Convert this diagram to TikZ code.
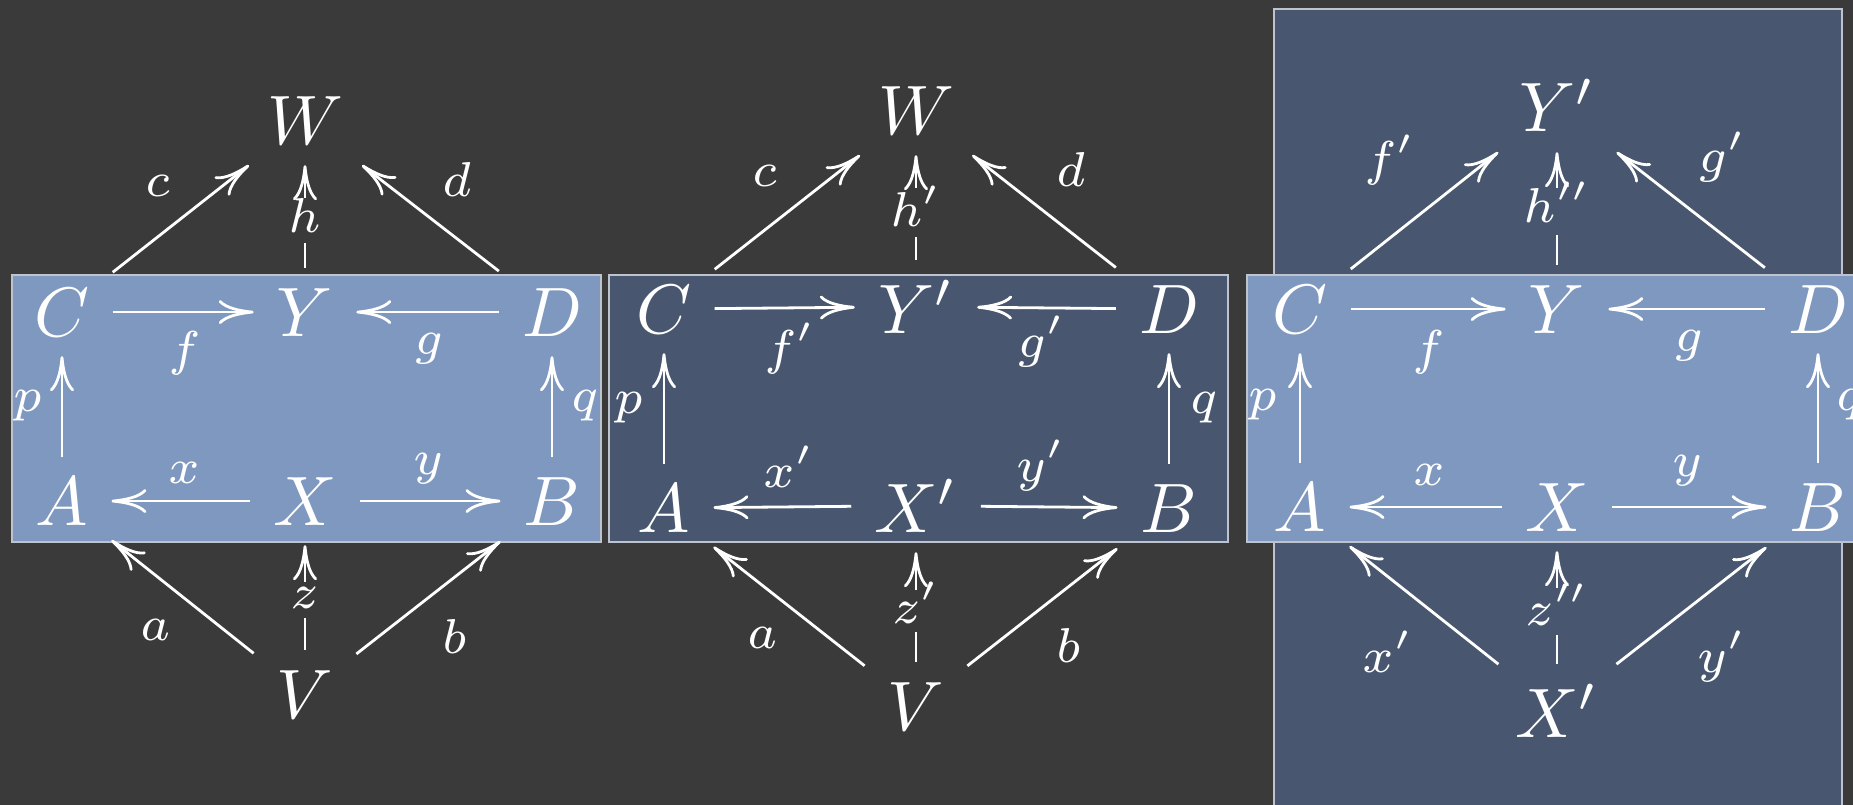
\documentclass[tikz,border=0pt]{standalone}
\usepackage{graphicx}
\usetikzlibrary{arrows.meta}
\definecolor{bgcol}{RGB}{58,58,58}
\definecolor{lightblue}{RGB}{127,152,191}
\definecolor{darkblue}{RGB}{72,87,111}
\definecolor{edgecol}{RGB}{190,195,205}
\newcommand\ob[1]{\scalebox{7}{$#1$}}
\newcommand\lb[1]{\scalebox{7}{$\scriptstyle #1$}}
\tikzset{
  obj/.style={text=white, inner xsep=23pt, inner ysep=20pt, anchor=base},
  lab/.style={text=white, inner sep=0pt, anchor=base},
  desc/.style={text=white, inner sep=0pt},
  arr/.style={draw=white, line width=2.8pt, -{Computer Modern Rightarrow[length=35pt,width=24pt]}},
  seg/.style={draw=white, line width=2.8pt},
  lightbox/.style={fill=lightblue, draw=edgecol, line width=1.5pt},
  darkbox/.style={fill=darkblue, draw=edgecol, line width=1.5pt},
}
\begin{document}
\begin{tikzpicture}[x=1pt,y=-1pt]
\useasboundingbox (0,0) rectangle (1853,805);
\fill[bgcol] (0,0) rectangle (1853,805);
\clip (0,0) rectangle (1853,805);
% boxes
\path[lightbox] (12,275) rectangle (601,542);
\path[darkbox] (609,275) rectangle (1228,542);
\path[darkbox] (1274,9) rectangle (1842,830);
\path[lightbox] (1247,275) rectangle (1875,542);

% ---------- panel 1 ----------
\node[obj] (W1) at (305,145) {\ob{W}};
\node[obj] (C1) at (62,336) {\ob{C}};
\node[obj] (Y1) at (305,336) {\ob{Y}};
\node[obj] (D1) at (552,336) {\ob{D}};
\node[obj] (A1) at (62,525) {\ob{A}};
\node[obj] (X1) at (305,525) {\ob{X}};
\node[obj] (B1) at (552,525) {\ob{B}};
\node[obj] (V1) at (305,718) {\ob{V}};
\node[lab] (c1) at (158,197) {\lb{c}};
\node[lab] (d1) at (457,197) {\lb{d}};
\node[lab] (f1) at (185,365) {\lb{f}};
\node[lab] (g1) at (429,354) {\lb{g}};
\node[lab] (p1) at (28,411) {\lb{p}};
\node[lab] (q1) at (585,411) {\lb{q}};
\node[lab] (x1) at (184,483) {\lb{x}};
\node[lab] (y1) at (429,474) {\lb{y}};
\node[lab] (a1) at (156,640) {\lb{a}};
\node[lab] (b1) at (455,653) {\lb{b}};
\node[desc, text height=35pt, text depth=10pt] (h1) at (305,220.5) {\lb{h}};
\node[desc, text height=26pt, text depth=10pt] (z1) at (305,600) {\lb{z}};
\draw[arr] (C1) -- (Y1);
\draw[arr] (D1) -- (Y1);
\draw[arr] (A1) -- (C1);
\draw[arr] (B1) -- (D1);
\draw[arr] (X1) -- (A1);
\draw[arr] (X1) -- (B1);
\draw[arr] (C1) -- (W1);
\draw[arr] (D1) -- (W1);
\draw[seg] (Y1) -- (h1);
\draw[arr] (h1) -- (W1);
\draw[arr] (V1) -- (A1);
\draw[arr] (V1) -- (B1);
\draw[seg] (V1) -- (z1);
\draw[arr] (z1) -- (X1);

% ---------- panel 2 ----------
\node[obj] (W2) at (916,135) {\ob{W}};
\node[obj] (C2) at (664,333) {\ob{C}};
\node[obj] (Yp2) at (916,333) {\ob{Y'}};
\node[obj] (D2) at (1169,333) {\ob{D}};
\node[obj] (A2) at (664,532) {\ob{A}};
\node[obj] (Xp2) at (916,532) {\ob{X'}};
\node[obj] (B2) at (1169,532) {\ob{B}};
\node[obj] (V2) at (916,730) {\ob{V}};
\node[lab] (c2) at (765,187) {\lb{c}};
\node[lab] (d2) at (1071,187) {\lb{d}};
\node[lab] (f2) at (790,364) {\lb{f'}};
\node[lab] (g2) at (1041,357) {\lb{g'}};
\node[lab] (p2) at (629,413) {\lb{p}};
\node[lab] (q2) at (1204,413) {\lb{q}};
\node[lab] (x2) at (789,487) {\lb{x'}};
\node[lab] (y2) at (1041,481) {\lb{y'}};
\node[lab] (a2) at (763,648) {\lb{a}};
\node[lab] (b2) at (1069,662) {\lb{b}};
\node[desc, text height=39pt, text depth=10pt] (h2) at (916,212.5) {\lb{h'}};
\node[desc, text height=33pt, text depth=9pt] (z2) at (916,611) {\lb{z'}};
\draw[arr] (C2) -- (Yp2);
\draw[arr] (D2) -- (Yp2);
\draw[arr] (A2) -- (C2);
\draw[arr] (B2) -- (D2);
\draw[arr] (Xp2) -- (A2);
\draw[arr] (Xp2) -- (B2);
\draw[arr] (C2) -- (W2);
\draw[arr] (D2) -- (W2);
\draw[seg] (Yp2) -- (h2);
\draw[arr] (h2) -- (W2);
\draw[arr] (V2) -- (A2);
\draw[arr] (V2) -- (B2);
\draw[seg] (V2) -- (z2);
\draw[arr] (z2) -- (Xp2);

% ---------- panel 3 ----------
\node[obj] (Yp3) at (1557,132) {\ob{Y'}};
\node[obj] (C3) at (1300,333) {\ob{C}};
\node[obj] (Y3) at (1557,333) {\ob{Y}};
\node[obj] (D3) at (1818,333) {\ob{D}};
\node[obj] (A3) at (1300,531) {\ob{A}};
\node[obj] (X3) at (1557,531) {\ob{X}};
\node[obj] (B3) at (1818,531) {\ob{B}};
\node[obj] (Xp3) at (1557,737) {\ob{X'}};
\node[lab] (f3p) at (1390,176) {\lb{f'}};
\node[lab] (g3p) at (1722,173) {\lb{g'}};
\node[lab] (f3) at (1429,364) {\lb{f}};
\node[lab] (g3) at (1689,351) {\lb{g}};
\node[lab] (p3) at (1263,410) {\lb{p}};
\node[lab] (q3) at (1850,410) {\lb{q}};
\node[lab] (x3) at (1429,485) {\lb{x}};
\node[lab] (y3) at (1688,476) {\lb{y}};
\node[lab] (x3p) at (1388,672) {\lb{x'}};
\node[lab] (y3p) at (1722,672) {\lb{y'}};
\node[desc, text height=35pt, text depth=12pt] (h3) at (1557,211.5) {\lb{h''}};
\node[desc, text height=37pt, text depth=10pt] (z3) at (1557,611.5) {\lb{z''}};
\draw[arr] (C3) -- (Y3);
\draw[arr] (D3) -- (Y3);
\draw[arr] (A3) -- (C3);
\draw[arr] (B3) -- (D3);
\draw[arr] (X3) -- (A3);
\draw[arr] (X3) -- (B3);
\draw[arr] (C3) -- (Yp3);
\draw[arr] (D3) -- (Yp3);
\draw[seg] (Y3) -- (h3);
\draw[arr] (h3) -- (Yp3);
\draw[arr] (Xp3) -- (A3);
\draw[arr] (Xp3) -- (B3);
\draw[seg] (Xp3) -- (z3);
\draw[arr] (z3) -- (X3);
\end{tikzpicture}
\end{document}
